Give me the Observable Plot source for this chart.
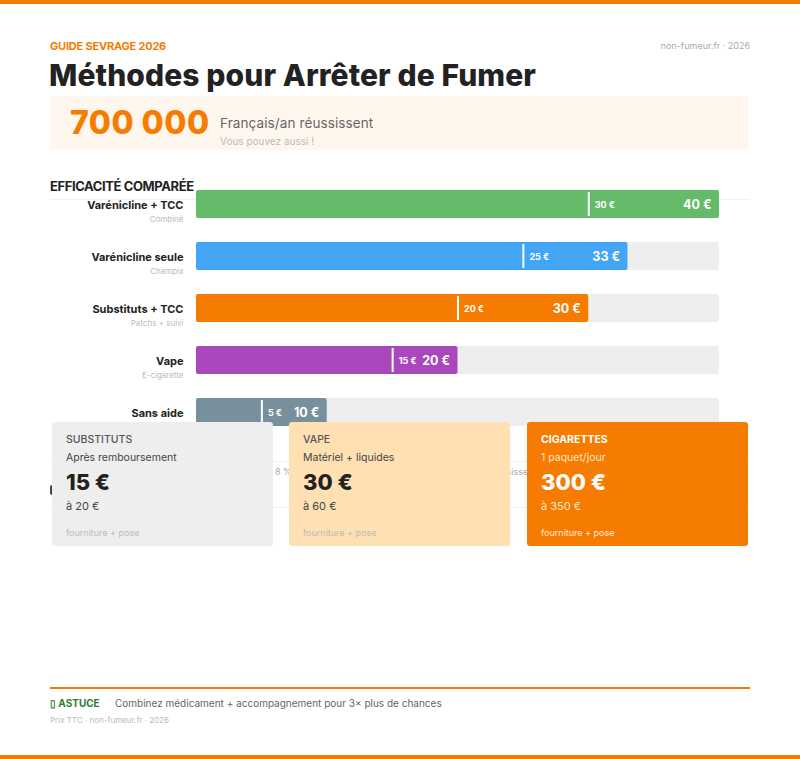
<!DOCTYPE html>
<html><head><meta charset="utf-8">
<script src="https://cdn.jsdelivr.net/npm/d3@7"></script>
<script src="https://cdn.jsdelivr.net/npm/@observablehq/plot@0.6"></script>
<style>
  html,body{margin:0;padding:0;background:#fff;}
  #page{position:relative;width:800px;height:759px;overflow:hidden;font-family:Inter,"Noto Sans",sans-serif;color:#222;}
  .abs{position:absolute;white-space:nowrap;}
  #chart{position:absolute;left:0;top:0;z-index:1;}
  .card{position:absolute;top:422px;width:221px;height:124px;border-radius:3px;z-index:2;box-sizing:border-box;padding-left:14px;}
  .card div{position:absolute;left:14px;white-space:nowrap;}
</style></head>
<body>
<div id="page">
  <div class="abs" style="left:0;top:0;width:800px;height:4px;background:#f57c00"></div>
  <div class="abs" style="left:0;top:755px;width:800px;height:4px;background:#f57c00"></div>
  <div class="abs" style="left:50px;top:39px;font-size:11px;font-weight:700;color:#f57c00;letter-spacing:-0.2px">GUIDE SEVRAGE 2026</div>
  <div class="abs" style="right:50px;top:40px;font-size:9px;color:#aaa">non-fumeur.fr · 2026</div>
  <div class="abs" id="title" style="left:49px;top:57px;font-size:30px;font-weight:800;color:#222;letter-spacing:0.1px">Méthodes pour Arrêter de Fumer</div>
  <div class="abs" style="left:50px;top:99px;width:1px;height:3px;background:#555"></div>
  <div class="abs" style="left:50px;top:96px;width:698px;height:54px;background:#fff6ee;border-radius:2px"></div>
  <div class="abs" style="left:70px;top:103px;font-size:32px;font-weight:800;color:#f57c00;letter-spacing:0.5px">700 000</div>
  <div class="abs" style="left:220px;top:115px;font-size:13.5px;color:#666;letter-spacing:0.1px">Français/an réussissent</div>
  <div class="abs" style="left:220px;top:135px;font-size:10px;color:#bbb">Vous pouvez aussi !</div>
  <div class="abs" style="left:50px;top:178px;font-size:13px;font-weight:700;color:#222;letter-spacing:-0.4px">EFFICACITÉ COMPARÉE</div>
  <div class="abs" style="left:50px;top:199px;width:700px;height:1px;background:#f0f0f0"></div>
  <!-- hidden row behind cards -->
  <div class="abs" style="left:50px;top:461px;width:700px;height:1px;background:#f0f0f0"></div>
  <div class="abs" style="left:50px;top:507px;width:700px;height:1px;background:#f0f0f0"></div>
  <div class="abs" style="left:275px;top:466px;font-size:9px;color:#aaa">8 %</div>
  <div class="abs" style="left:488px;top:466px;font-size:9px;color:#aaa">réussissent</div>
  <div class="abs" style="left:50px;top:485px;width:2px;height:10px;background:#444;border-radius:2px 0 0 2px"></div>

  <div class="abs" style="left:50px;top:687px;width:700px;height:2px;background:#f57c00"></div>
  <div class="abs" style="left:50px;top:697px;font-size:10px;font-weight:700;color:#2e7d32">▯ ASTUCE</div>
  <div class="abs" style="left:115px;top:697px;font-size:10px;color:#666">Combinez médicament + accompagnement pour 3× plus de chances</div>
  <div class="abs" style="left:50px;top:715px;font-size:8px;color:#bbb">Prix TTC · non-fumeur.fr · 2026</div>
</div>
<script>
// ---- data ----
const categories = ["Varénicline + TCC", "Varénicline seule", "Substituts + TCC", "Vape", "Sans aide"];
const subLabels  = ["Combiné", "Champix", "Patchs + suivi", "E-cigarette", "Volonté"];
const values     = [40, 33, 30, 20, 10];
const markers    = [30, 25, 20, 15, 5];
const barColors  = ["#66bb6a", "#42a5f5", "#f57c00", "#ab47bc", "#78909c"];
const xMax = 40;

const cardTitles = ["SUBSTITUTS", "VAPE", "CIGARETTES"];
const cardSubs   = ["Après remboursement", "Matériel + liquides", "1 paquet/jour"];
const cardPrices = ["15 €", "30 €", "300 €"];
const cardRanges = ["à 20 €", "à 60 €", "à 350 €"];
const cardNotes  = ["fourniture + pose", "fourniture + pose", "fourniture + pose"];

const rows = categories.map((c, i) => ({cat: c, sub: subLabels[i], value: values[i], marker: markers[i]}));

const chart = Plot.plot({
  width: 800, height: 759, margin: 0,
  style: {background: "transparent", fontFamily: "Inter, 'Noto Sans', sans-serif"},
  x: {domain: [0, xMax], range: [196, 719], axis: null},
  y: {type: "band", domain: categories, range: [190, 426], paddingInner: 24/52, paddingOuter: 0, round: false, axis: null},
  color: {domain: categories, range: barColors},
  marks: [
    Plot.barX(rows, {y: "cat", x1: d => 0, x2: d => xMax, fill: "#eeeeee", rx: 2}),
    Plot.barX(rows, {y: "cat", x1: d => 0, x2: "value", fill: "cat", rx: 2}),
    Plot.tickX(rows, {x: "marker", y: "cat", stroke: "white", strokeWidth: 2, insetTop: 2, insetBottom: 2}),
    Plot.text(rows, {x: "marker", y: "cat", text: d => `${d.marker} €`, dx: 6, dy: 1, textAnchor: "start", fill: "white", fontSize: 9, fontWeight: 700}),
    Plot.text(rows, {x: "value", y: "cat", text: d => `${d.value} €`, dx: -8, dy: 0, textAnchor: "end", fill: "white", fontSize: 12.5, fontWeight: 700}),
    Plot.text(rows, {x: d => 0, y: "cat", text: "cat", dx: -13, dy: 1, textAnchor: "end", fill: "#222", fontSize: 11, fontWeight: 700}),
    Plot.text(rows, {x: d => 0, y: "cat", text: "sub", dx: -13, dy: 15, textAnchor: "end", fill: "#bbb", fontSize: 8})
  ]
});
chart.id = "chart";
const page = document.getElementById("page");
page.appendChild(chart);

const cardStyles = [
  {left: 52, bg: "#eeeeee", title: "#555", sub: "#444", price: "#222", range: "#444", note: "#bbb"},
  {left: 289, bg: "#ffe0b2", title: "#555", sub: "#444", price: "#222", range: "#444", note: "#bbb"},
  {left: 527, bg: "#f57c00", title: "#fff", sub: "#ffe3c4", price: "#fff", range: "#ffe3c4", note: "#ffe9d4"}
];
cardTitles.forEach((t, i) => {
  const s = cardStyles[i];
  const c = document.createElement("div");
  c.className = "card";
  c.style.left = s.left + "px";
  c.style.background = s.bg;
  c.innerHTML = `
    <div style="top:11px;font-size:10.5px;font-weight:${i===2?700:500};color:${s.title}">${t}</div>
    <div style="top:29px;font-size:10.5px;color:${s.sub}">${cardSubs[i]}</div>
    <div style="top:47px;font-size:22px;font-weight:800;color:${s.price}">${cardPrices[i]}</div>
    <div style="top:77px;font-size:11px;color:${s.range}">${cardRanges[i]}</div>
    <div style="top:105px;font-size:9px;color:${s.note}">${cardNotes[i]}</div>`;
  page.appendChild(c);
});
</script>
</body></html>
